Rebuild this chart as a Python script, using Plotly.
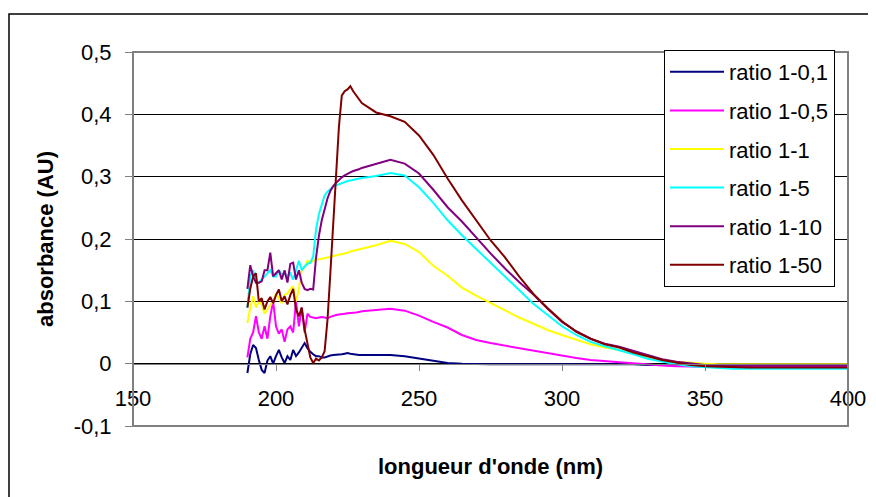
import plotly.graph_objects as go

wavelength_nm = [
    190, 191, 192, 193, 194, 195, 196, 197, 198, 199,
    200, 201, 202, 203, 204, 205, 206, 207, 208, 209,
    210, 211, 212, 213, 214, 215, 216, 217, 218, 219,
    220, 221, 222, 223, 224, 225, 226, 227, 228, 229, 230,
    235, 240, 245, 250, 255, 260, 265, 270, 275, 280,
    285, 290, 295, 300, 305, 310, 315, 320, 325, 330,
    335, 340, 345, 350, 355, 360, 365, 370, 375, 380,
    385, 390, 395, 400,
]

ratio_1_01 = [
    -0.015, 0.015, 0.03, 0.025, 0.006, -0.01, -0.015, 0.005, 0.012, 0.0,
    0.012, 0.022, 0.01, 0.001, 0.012, 0.006, 0.022, 0.012, 0.018, 0.025,
    0.033, 0.025, 0.019, 0.015, 0.012, 0.012, 0.01, 0.01, 0.012, 0.013,
    0.014, 0.014, 0.015, 0.015, 0.016, 0.017, 0.016, 0.015, 0.015, 0.014, 0.014,
    0.014, 0.014, 0.012, 0.008, 0.004, 0.001, 0.0, -0.001, -0.001, -0.001,
    -0.001, -0.001, -0.001, 0.0, -0.001, -0.001, -0.001, -0.001, -0.001, -0.002,
    -0.002, -0.002, -0.001, -0.001, -0.001, -0.001, -0.001, -0.001, -0.001, -0.001,
    -0.001, -0.001, -0.001, -0.001,
]

ratio_1_05 = [
    0.01, 0.04, 0.05, 0.076, 0.05, 0.04, 0.06, 0.04, 0.076, 0.1,
    0.06, 0.048, 0.055, 0.035, 0.055, 0.06, 0.05, 0.1, 0.06, 0.09,
    0.05, 0.08, 0.075, 0.074, 0.073, 0.074, 0.075, 0.074, 0.073, 0.075,
    0.077, 0.078, 0.079, 0.079, 0.08, 0.081, 0.081, 0.082, 0.082, 0.083, 0.084,
    0.086, 0.088, 0.085, 0.077, 0.067, 0.058, 0.046, 0.038, 0.033, 0.029,
    0.025, 0.021, 0.016, 0.012, 0.009, 0.006, 0.004, 0.003, 0.001, -0.001,
    -0.003, -0.004, -0.005, -0.005, -0.005, -0.005, -0.005, -0.005, -0.005, -0.005,
    -0.005, -0.005, -0.005, -0.005,
]

ratio_1_1 = [
    0.065, 0.09, 0.108, 0.09, 0.1, 0.095, 0.08, 0.087, 0.095, 0.1,
    0.113, 0.105, 0.097, 0.11, 0.113, 0.12, 0.124, 0.1, 0.12, 0.15,
    0.155, 0.165, 0.162, 0.165, 0.168, 0.167, 0.168, 0.169, 0.17, 0.171,
    0.172, 0.173, 0.175, 0.176, 0.177, 0.178, 0.18, 0.181, 0.183, 0.184, 0.185,
    0.19, 0.197, 0.192, 0.179, 0.157, 0.141, 0.122, 0.109, 0.097, 0.085,
    0.074, 0.064, 0.054, 0.046, 0.038, 0.031, 0.026, 0.022, 0.016, 0.011,
    0.006, 0.003, 0.001, 0.0, -0.001, -0.001, -0.001, -0.001, -0.001, -0.001,
    -0.001, -0.001, -0.001, -0.001,
]

ratio_1_5 = [
    0.09, 0.14, 0.15, 0.13, 0.13, 0.135, 0.14, 0.145, 0.15, 0.14,
    0.14, 0.15, 0.143, 0.145, 0.14, 0.145, 0.135, 0.15, 0.165, 0.15,
    0.156, 0.16, 0.162, 0.172, 0.215, 0.24, 0.255, 0.27, 0.276, 0.28,
    0.284, 0.286, 0.288, 0.29, 0.291, 0.293, 0.294, 0.295, 0.296, 0.297, 0.298,
    0.301, 0.306, 0.302, 0.283, 0.258, 0.23, 0.206, 0.184, 0.161, 0.139,
    0.117, 0.096, 0.078, 0.06, 0.046, 0.035, 0.028, 0.022, 0.015, 0.008,
    0.003, -0.001, -0.004, -0.006, -0.007, -0.008, -0.008, -0.008, -0.008, -0.008,
    -0.008, -0.008, -0.008, -0.008,
]

ratio_1_10 = [
    0.12, 0.158, 0.14, 0.13, 0.13, 0.132, 0.15, 0.15, 0.178, 0.14,
    0.145, 0.15, 0.135, 0.15, 0.13, 0.16, 0.162, 0.135, 0.15, 0.13,
    0.12, 0.118, 0.12, 0.119, 0.17, 0.205, 0.23, 0.25, 0.265, 0.277,
    0.285, 0.29, 0.295, 0.299, 0.302, 0.305, 0.307, 0.309, 0.31, 0.312, 0.314,
    0.32, 0.327, 0.321, 0.305, 0.279, 0.251, 0.228, 0.202, 0.177, 0.153,
    0.131, 0.111, 0.088, 0.067, 0.052, 0.04, 0.032, 0.027, 0.02, 0.013,
    0.007, 0.003, 0.0, -0.002, -0.003, -0.003, -0.003, -0.003, -0.003, -0.003,
    -0.003, -0.003, -0.003, -0.003,
]

ratio_1_50 = [
    0.09, 0.12, 0.14, 0.145, 0.1, 0.105, 0.087, 0.1, 0.107, 0.097,
    0.11, 0.119, 0.1, 0.108, 0.095, 0.11, 0.12, 0.087, 0.076, 0.09,
    0.055, 0.03, 0.01, 0.001, 0.008, 0.005, 0.01, 0.02, 0.07, 0.145,
    0.23, 0.31, 0.38, 0.43, 0.437, 0.44, 0.445, 0.437, 0.43, 0.425, 0.418,
    0.403, 0.397, 0.388, 0.366, 0.335, 0.297, 0.262, 0.23, 0.198, 0.171,
    0.14, 0.112, 0.089, 0.068, 0.051, 0.04, 0.031, 0.026, 0.018, 0.012,
    0.006, 0.002, -0.002, -0.004, -0.005, -0.006, -0.006, -0.006, -0.006, -0.006,
    -0.006, -0.006, -0.006, -0.006,
]

series_names = ["ratio 1-0,1", "ratio 1-0,5", "ratio 1-1", "ratio 1-5", "ratio 1-10", "ratio 1-50"]
series_values = [ratio_1_01, ratio_1_05, ratio_1_1, ratio_1_5, ratio_1_10, ratio_1_50]
series_colors = ["#000080", "#FF00FF", "#FFFF00", "#00FFFF", "#800080", "#800000"]

y_tick_values = [-0.1, 0.0, 0.1, 0.2, 0.3, 0.4, 0.5]
y_tick_labels = ["-0,1", "0", "0,1", "0,2", "0,3", "0,4", "0,5"]
x_tick_values = [150, 200, 250, 300, 350, 400]
x_tick_labels = ["150", "200", "250", "300", "350", "400"]

FONT = "Liberation Sans, Arial, sans-serif"

# plot area in figure pixels (page body adds an 8px offset)
L, R, T, B = 125, 840, 44, 418
PW, PH = R - L, B - T

fig = go.Figure()
for i, (name, vals, col) in enumerate(zip(series_names, series_values, series_colors)):
    fig.add_trace(go.Scatter(
        x=wavelength_nm, y=vals, mode="lines", name=name,
        line=dict(color=col, width=2), legendgroup=f"g{i}",
    ))

fig.update_layout(
    width=876, height=497,
    margin=dict(l=L, r=876 - R, t=T, b=497 - B),
    paper_bgcolor="white", plot_bgcolor="white",
    font=dict(family=FONT, size=22, color="black"),
    legend=dict(
        x=(656 - L) / PW, y=(B - 42) / PH, xanchor="left", yanchor="top",
        bgcolor="white", bordercolor="black", borderwidth=1,
        font=dict(family=FONT, size=22, color="black"),
        tracegroupgap=7, itemwidth=54,
    ),
    xaxis=dict(
        range=[150, 400], tickvals=x_tick_values, ticktext=x_tick_labels,
        ticks="outside", ticklen=6, tickcolor="#808080", tickwidth=1,
        showline=True, linecolor="#808080", linewidth=1,
        anchor="free", position=1 / 6,
        showgrid=False, zeroline=False, ticklabelstandoff=9,
        tickfont=dict(family=FONT, size=22, color="black"),
    ),
    yaxis=dict(
        range=[-0.1, 0.5], tickvals=y_tick_values, ticktext=y_tick_labels,
        ticks="outside", ticklen=7, tickcolor="#808080", tickwidth=1,
        showline=True, linecolor="#808080", linewidth=1,
        showgrid=True, gridcolor="black", gridwidth=1, zeroline=False,
        ticklabelstandoff=9,
        tickfont=dict(family=FONT, size=22, color="black"),
    ),
    shapes=[
        dict(type="rect", xref="paper", yref="paper", x0=0, x1=1, y0=0, y1=1,
             line=dict(color="#808080", width=2), layer="above"),
        dict(type="rect", xref="paper", yref="paper",
             x0=(1 - L) / PW, x1=(900 - L) / PW,
             y0=(B - 520) / PH, y1=(B - 6) / PH,
             line=dict(color="black", width=1.5), layer="above"),
    ],
    annotations=[
        dict(text="<b>absorbance (AU)</b>", xref="paper", yref="paper",
             x=(37 - L) / PW, y=0.5, textangle=-90, showarrow=False,
             font=dict(family=FONT, size=22, color="black"),
             xanchor="center", yanchor="middle"),
        dict(text="<b>longueur d'onde (nm)</b>", xref="paper", yref="paper",
             x=0.5, y=(B - 458) / PH, showarrow=False,
             font=dict(family=FONT, size=22, color="black"),
             xanchor="center", yanchor="middle"),
    ],
)

fig.write_html("out.html")
